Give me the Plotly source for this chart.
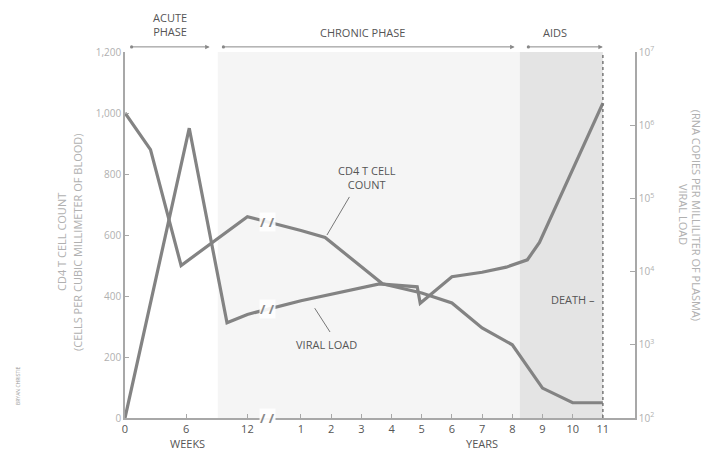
import numpy as np
import plotly.graph_objects as go

# ---------------- data ----------------
cd4_acute_weeks = [0, 2.5, 5.5, 12]
cd4_acute_counts = [1000, 880, 500, 660]
cd4_chronic_years = [1, 1.8, 3.7, 5, 6, 7, 8, 9, 10, 11]
cd4_chronic_counts = [615, 592, 440, 410, 377, 295, 240, 98, 50, 50]

viral_acute_weeks = [0, 6.3, 10, 12]
viral_acute_copies = [100, 910000, 2000, 2600]
viral_chronic_years = [1, 3.6, 4.85, 4.95, 6, 7, 7.8, 8.5, 8.9, 11]
viral_chronic_copies = [4000, 6800, 6200, 3700, 8500, 9800, 11500, 14500, 25000, 2000000]

week_ticks = [0, 6, 12]
year_ticks = [1, 2, 3, 4, 5, 6, 7, 8, 9, 10, 11]
cd4_ticks = [0, 200, 400, 600, 800, 1000, 1200]
cd4_tick_labels = ["0", "200", "400", "600", "800", "1,000", "1,200"]
viral_ticks = [1e2, 1e3, 1e4, 1e5, 1e6, 1e7]
viral_tick_labels = ["10<sup>2</sup>", "10<sup>3</sup>", "10<sup>4</sup>",
                     "10<sup>5</sup>", "10<sup>6</sup>", "10<sup>7</sup>"]

# phase boundaries (in years / weeks)
chronic_start_week = 9.1
aids_start_year = 8.25
death_year = 11

# ---------------- broken time axis ----------------
YEAR1_POS = 17.25
YEAR_SPAN = 2.96
BREAK_POS = 14.0


def week_pos(w):
    return np.asarray(w, dtype=float)


def year_pos(y):
    return YEAR1_POS + (np.asarray(y, dtype=float) - 1) * YEAR_SPAN


cd4_x = np.concatenate([week_pos(cd4_acute_weeks), year_pos(cd4_chronic_years)])
cd4_y = cd4_acute_counts + cd4_chronic_counts
vir_x = np.concatenate([week_pos(viral_acute_weeks), year_pos(viral_chronic_years)])
vir_y = viral_acute_copies + viral_chronic_copies

LINE = "#838383"
AXIS = "#a8a8a8"
LIGHT = "#b0b0b0"
DARK = "#555555"
FONT = "Open Sans"

fig = go.Figure()

fig.add_trace(go.Scatter(x=cd4_x, y=cd4_y, mode="lines",
                         line=dict(color=LINE, width=3.2), name="CD4 T cell count",
                         showlegend=False, hoverinfo="skip"))
fig.add_trace(go.Scatter(x=vir_x, y=vir_y, mode="lines", yaxis="y2",
                         line=dict(color=LINE, width=3.2), name="Viral load",
                         showlegend=False, hoverinfo="skip"))

x_end = 50.0
shapes = []
# chronic phase shading
shapes.append(dict(type="rect", xref="x", yref="paper", x0=float(week_pos(chronic_start_week)),
                   x1=float(year_pos(aids_start_year)), y0=0, y1=1,
                   fillcolor="#f5f5f5", line=dict(width=0), layer="below"))
# AIDS shading
shapes.append(dict(type="rect", xref="x", yref="paper", x0=float(year_pos(aids_start_year)),
                   x1=float(year_pos(death_year)), y0=0, y1=1,
                   fillcolor="#e4e4e4", line=dict(width=0), layer="below"))
# death dotted line
shapes.append(dict(type="line", xref="x", yref="paper", x0=float(year_pos(death_year)),
                   x1=float(year_pos(death_year)), y0=0, y1=1,
                   line=dict(color="#777777", width=1.5, dash="dot")))
# leader lines
shapes.append(dict(type="line", xref="x", yref="paper", x0=22.0, y0=0.604, x1=19.8, y1=0.50,
                   line=dict(color="#777777", width=1)))
shapes.append(dict(type="line", xref="x", yref="paper", x0=18.6, y0=0.30, x1=20.1, y1=0.235,
                   line=dict(color="#777777", width=1)))

annotations = []
# phase arrows
top_y = 1.014
for a, b in [(0.5, 8.3), (9.5, 38.2), (39.4, float(year_pos(death_year)))]:
    annotations.append(dict(x=b, y=top_y, xref="x", yref="paper", ax=a, ay=0,
                            axref="x", ayref="pixel", text="", showarrow=True,
                            arrowhead=2, startarrowhead=6, arrowside="end+start",
                            arrowsize=0.9, startarrowsize=0.8, arrowwidth=1,
                            arrowcolor="#888888"))


def label(x, y, text, xref="x", yref="paper", size=11, color=DARK, angle=0, xanchor="center"):
    return dict(x=x, y=y, xref=xref, yref=yref, text=text, showarrow=False,
                xanchor=xanchor, yanchor="middle", textangle=angle,
                font=dict(family=FONT, size=size, color=color))


annotations += [
    label(4.4, 1.074, "ACUTE<br>PHASE"),
    label(23.3, 1.052, "CHRONIC PHASE"),
    label(42.2, 1.052, "AIDS"),
    label(6.08, -0.071, "WEEKS"),
    label(35.0, -0.071, "YEARS"),
    label(23.7, 0.656, "CD4 T CELL<br>COUNT"),
    label(19.8, 0.20, "VIRAL LOAD"),
    label(46.3, 0.325, "DEATH –", xanchor="right"),
    label(-0.1235, 0.481, "CD4 T CELL COUNT", xref="paper", color=LIGHT, angle=-90),
    label(-0.092, 0.481, "(CELLS PER CUBIC MILLIMETER OF BLOOD)", xref="paper",
          color=LIGHT, angle=-90),
    label(1.094, 0.555, "VIRAL LOAD", xref="paper", color=LIGHT, angle=90),
    label(1.12, 0.555, "(RNA COPIES PER MILLILITER OF PLASMA)", xref="paper",
          color=LIGHT, angle=90),
    label(-0.21, 0.09, "BRYAN CHRISTIE", xref="paper", size=5, color="#999999", angle=-90),
]
# break marks on axis and lines
brk_cd4 = float(np.interp(BREAK_POS, cd4_x, cd4_y))
brk_vir = float(10 ** np.interp(BREAK_POS, vir_x, np.log10(vir_y)))
for yy, yref in [(0, "y"), (brk_cd4, "y"), (np.log10(brk_vir), "y2")]:
    annotations.append(dict(x=BREAK_POS, y=yy, xref="x", yref=yref, text="<b>/ /</b>",
                            showarrow=False, bgcolor="rgba(255,255,255,0.9)", borderpad=0,
                            xanchor="center", yanchor="middle",
                            font=dict(family=FONT, size=13, color="#888888")))

fig.update_layout(
    width=705, height=455,
    margin=dict(l=125, r=70, t=52, b=37),
    paper_bgcolor="white", plot_bgcolor="white",
    font=dict(family=FONT, color=DARK),
    shapes=shapes, annotations=annotations,
    xaxis=dict(range=[0, x_end], showgrid=False, zeroline=False, showline=True,
               linecolor=AXIS, linewidth=1.5, ticks="inside", ticklen=4, tickcolor=AXIS,
               tickvals=list(week_pos(week_ticks)) + list(year_pos(year_ticks)),
               ticktext=[str(t) for t in week_ticks] + [str(t) for t in year_ticks],
               tickfont=dict(family=FONT, size=11, color=DARK)),
    yaxis=dict(range=[0, 1200], showgrid=False, zeroline=False, showline=True,
               linecolor=AXIS, linewidth=1.5, ticks="inside", ticklen=4, tickcolor=AXIS,
               tickvals=cd4_ticks, ticktext=cd4_tick_labels,
               tickfont=dict(family=FONT, size=10, color=LIGHT)),
    yaxis2=dict(type="log", range=[2, 7], overlaying="y", side="right", showgrid=False,
                zeroline=False, showline=True, linecolor=AXIS, linewidth=1.5,
                ticks="inside", ticklen=5, tickcolor=AXIS,
                tickvals=viral_ticks, ticktext=viral_tick_labels,
                tickfont=dict(family=FONT, size=10, color=LIGHT)),
)

fig.write_html("out.html", config={"displayModeBar": False},
               post_script="document.body.style.margin='0';document.body.style.overflow='hidden';")
